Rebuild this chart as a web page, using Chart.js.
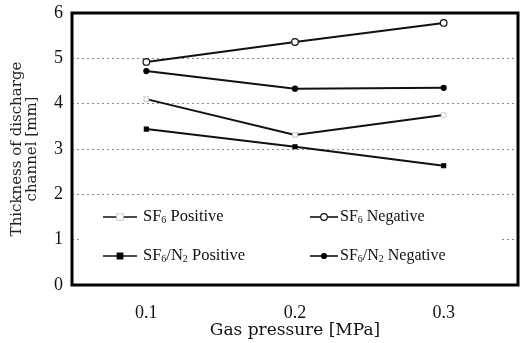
<!DOCTYPE html>
<html>
<head>
<meta charset="utf-8">
<script src="https://cdn.jsdelivr.net/npm/chart.js@4/dist/chart.umd.min.js"></script>
<style>
  html, body { margin:0; padding:0; background:#fff; }
  #wrap { width:528px; height:343px; }
</style>
</head>
<body>
<div id="wrap"><canvas id="ch" width="528" height="343"></canvas></div>
<script>
// ── data ─────────────────────────────────────────────────────────
const pressures = [0.1, 0.2, 0.3];
const xTicks    = [0.1, 0.2, 0.3];
const yTicks    = [0, 1, 2, 3, 4, 5, 6];

const sf6Positive = [4.10, 3.31, 3.75];
const sf6Negative = [4.92, 5.36, 5.78];
const mixPositive = [3.44, 3.05, 2.63];
const mixNegative = [4.72, 4.33, 4.35];

const seriesLabels = ['SF₆ Positive', 'SF₆ Negative', 'SF₆/N₂ Positive', 'SF₆/N₂ Negative'];

const SERIF = "'Liberation Serif', 'DejaVu Serif', serif";
const WIDE  = "'DejaVu Serif', 'Liberation Serif', serif";

const pts = arr => pressures.map((x, i) => ({ x, y: arr[i] }));

// ── helpers ──────────────────────────────────────────────────────
const SUB = { '₀':'0','₁':'1','₂':'2','₃':'3','₄':'4','₅':'5','₆':'6','₇':'7','₈':'8','₉':'9' };

function drawRich(ctx, str, x, y, size) {
  let cx = x;
  for (const ch of str) {
    const isSub = SUB[ch] !== undefined;
    const s = isSub ? Math.round(size * 0.62) : size;
    ctx.font = s + 'px ' + SERIF;
    const t = isSub ? SUB[ch] : ch;
    ctx.fillText(t, cx, isSub ? y + size * 0.22 : y);
    cx += ctx.measureText(t).width;
  }
}

function drawMarker(ctx, ds, x, y) {
  ctx.save();
  ctx.lineWidth = ds.pointBorderWidth || 1;
  ctx.strokeStyle = ds.pointBorderColor;
  ctx.fillStyle = ds.pointBackgroundColor;
  const r = ds.pointRadius;
  ctx.beginPath();
  if (ds.pointStyle === 'rect') ctx.rect(x - r, y - r, r * 2, r * 2);
  else ctx.arc(x, y, r, 0, Math.PI * 2);
  ctx.fill(); ctx.stroke();
  ctx.restore();
}

// legend drawn inside the plot, like the original figure
const innerLegend = {
  id: 'innerLegend',
  afterDraw(chart) {
    const { ctx, chartArea: a } = chart;
    ctx.save();
    ctx.fillStyle = '#fff';
    ctx.fillRect(a.left + 8, 204, 420, 64);
    const spots = [
      { x1: 103, x2: 137, tx: 143, y: 217, size: 16.5 },
      { x1: 310, x2: 338, tx: 340, y: 217, size: 16 },
      { x1: 103, x2: 137, tx: 143, y: 256, size: 16.5 },
      { x1: 310, x2: 338, tx: 340, y: 256, size: 16 },
    ];
    chart.data.datasets.forEach((ds, i) => {
      const p = spots[i];
      ctx.strokeStyle = '#111';
      ctx.lineWidth = 1.6;
      ctx.beginPath(); ctx.moveTo(p.x1, p.y); ctx.lineTo(p.x2, p.y); ctx.stroke();
      drawMarker(ctx, ds, (p.x1 + p.x2) / 2, p.y);
      ctx.fillStyle = '#111';
      ctx.textBaseline = 'middle';
      drawRich(ctx, ds.label, p.tx, p.y, p.size);
    });
    // frame
    ctx.strokeStyle = '#000';
    ctx.lineWidth = 3;
    ctx.strokeRect(a.left, a.top, a.right - a.left, a.bottom - a.top);
    ctx.restore();
  }
};

// ── chart ────────────────────────────────────────────────────────
const base = { borderColor:'#111', borderWidth:2, tension:0, pointBorderWidth:1.2 };

new Chart(document.getElementById('ch').getContext('2d'), {
  type: 'line',
  data: {
    datasets: [
      { ...base, label: seriesLabels[0], data: pts(sf6Positive), pointStyle:'rect', pointRadius:3.2,
        pointBorderColor:'#cfcfcf', pointBackgroundColor:'#fff' },
      { ...base, label: seriesLabels[1], data: pts(sf6Negative), pointStyle:'circle', pointRadius:3.3,
        pointBorderColor:'#111', pointBackgroundColor:'#fff' },
      { ...base, label: seriesLabels[2], data: pts(mixPositive), pointStyle:'rect', pointRadius:2.8,
        pointBorderColor:'#000', pointBackgroundColor:'#000' },
      { ...base, label: seriesLabels[3], data: pts(mixNegative), pointStyle:'circle', pointRadius:2.5,
        pointBorderColor:'#000', pointBackgroundColor:'#000' },
    ]
  },
  options: {
    responsive: false,
    animation: false,
    layout: { autoPadding: false, padding: { top: 13, right: 10, left: 10, bottom: 2 } },
    plugins: { legend: { display:false }, tooltip: { enabled:false } },
    scales: {
      x: {
        type: 'linear', min: 0.05, max: 0.35,
        afterBuildTicks: s => { s.ticks = xTicks.map(v => ({ value: v })); },
        afterFit: s => { s.height = 56; s.paddingLeft = 0; s.paddingRight = 0; },
        grid: { display:false },
        border: { display:false },
        ticks: { color:'#111', font:{ family:SERIF, size:18 }, padding:9, callback: v => String(v) },
        title: { display:true, text:'Gas pressure [MPa]', color:'#111', font:{ family:WIDE, size:17 }, padding:{ top:0, bottom:0 } }
      },
      y: {
        min: 0, max: 6,
        afterBuildTicks: s => { s.ticks = yTicks.map(v => ({ value: v })); },
        afterFit: s => { s.width = 62; s.paddingTop = 0; s.paddingBottom = 0; },
        grid: { color: c => (c.tick.value > 0 && c.tick.value < 6) ? '#8a8a8a' : 'rgba(0,0,0,0)', lineWidth:1, drawTicks:false },
        border: { display:false, dash:[2,3] },
        ticks: { color:'#111', font:{ family:SERIF, size:18 }, padding:9 },
        title: { display:true, text:['Thickness of discharge', 'channel [mm]'], color:'#222',
                 font:{ family:WIDE, size:15, lineHeight:1.0 }, padding:{ top:0, bottom:4 } }
      }
    }
  },
  plugins: [innerLegend]
});
</script>
</body>
</html>
